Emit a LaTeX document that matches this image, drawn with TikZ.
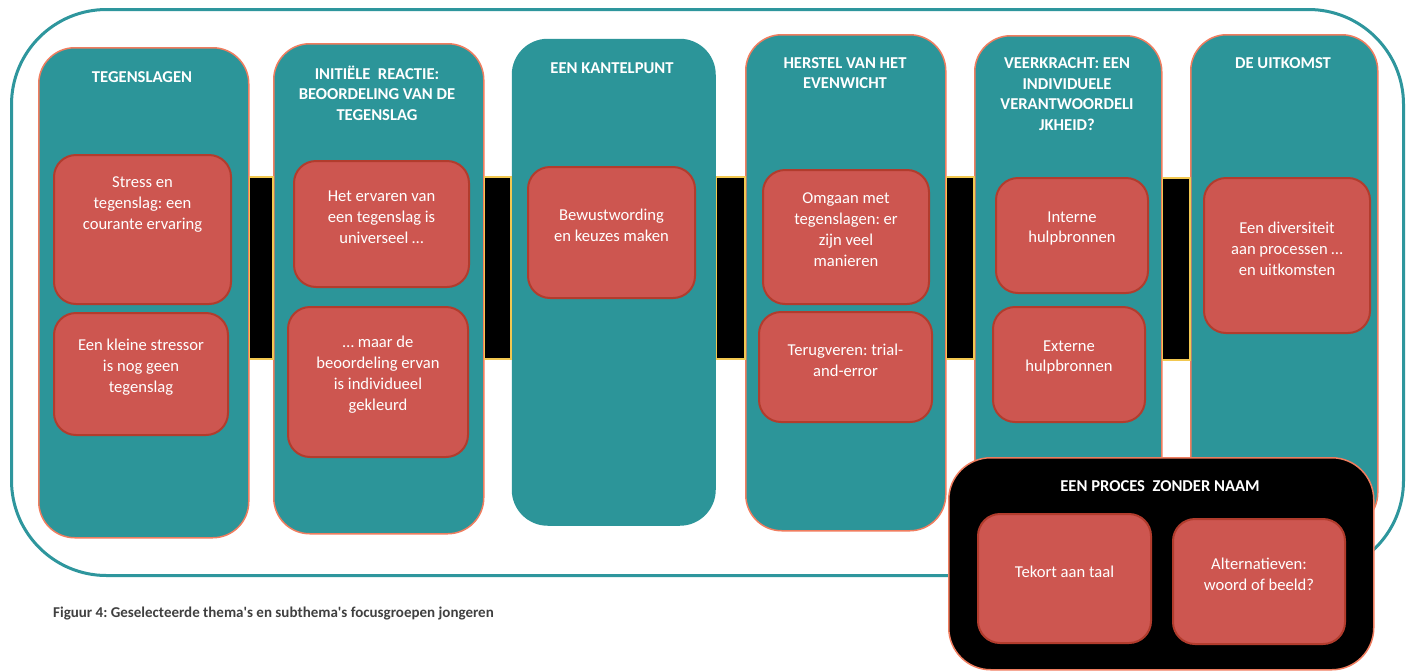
\documentclass[tikz,border=0pt]{standalone}
\usepackage{fontspec}
\setmainfont{Carlito}[Ligatures=TeXOff]
\frenchspacing
\definecolor{tealfill}{RGB}{44,149,153}
\definecolor{tealline}{RGB}{46,150,157}
\definecolor{coral}{RGB}{240,125,95}
\definecolor{redfill}{RGB}{205,86,80}
\definecolor{redline}{RGB}{178,60,45}
\definecolor{gold}{RGB}{242,200,80}
\definecolor{captiongray}{RGB}{64,64,64}
\tikzset{
  frame/.style={draw=tealline, line width=3pt, rounded corners=95pt, inner sep=0pt, anchor=north west},
  column/.style={draw=coral, line width=1.5pt, fill=tealfill, rounded corners=36pt, inner sep=0pt, anchor=north west},
  plaincolumn/.style={column, draw=none},
  bar/.style={draw=gold, line width=1.5pt, fill=black},
  sub/.style={draw=redline, line width=2pt, fill=redfill, rounded corners=22pt, inner sep=0pt, anchor=north west},
  blackbox/.style={draw=coral, line width=1.5pt, fill=black, rounded corners=42pt, inner sep=0pt, anchor=north west},
  title/.style={text=white, align=center, inner sep=0pt, font=\fontsize{16.6}{20.7}\selectfont\bfseries},
  subtext/.style={text=white, align=center, inner sep=0pt, font=\fontsize{16.6}{20.9}\selectfont},
  caption/.style={text=captiongray, anchor=west, inner sep=0pt, font=\fontsize{15}{18}\selectfont\bfseries}
}
\begin{document}
\begin{tikzpicture}[x=1pt,y=-1pt]
\useasboundingbox[fill=white] (0,0) rectangle (1407,670);

% outer frame around the six themes
\node[frame, minimum width=1392pt, minimum height=566pt] (outer) at (10,8) {};

% theme columns
\node[column, minimum width=210pt, minimum height=490pt] (c1) at (38,47) {};
\node[column, minimum width=210pt, minimum height=490pt] (c2) at (273,43) {};
\node[plaincolumn, minimum width=204pt, minimum height=487pt] (c3) at (511,38) {};
\node[column, minimum width=200pt, minimum height=496pt] (c4) at (745,34) {};
\node[column, minimum width=187pt, minimum height=492pt] (c5) at (974,35) {};
\node[column, minimum width=187pt, minimum height=494pt] (c6) at (1190,34) {};

% black links between neighbouring columns
\draw[bar] (c1.east |- 0,177) rectangle (c2.west |- 0,359);
\draw[bar] (c2.east |- 0,177) rectangle (c3.west |- 0,359);
\draw[bar] (c3.east |- 0,177) rectangle (c4.west |- 0,359);
\draw[bar] (c4.east |- 0,177) rectangle (c5.west |- 0,359);
\draw[bar] (c5.east |- 0,178) rectangle (c6.west |- 0,360);

% column titles
\node[title] (t1) at (142,77) {TEGENSLAGEN};
\node[title] (t2) at (377,93) {INITIËLE \ REACTIE:\\BEOORDELING VAN DE\\TEGENSLAG};
\node[title] (t3) at (612,68) {EEN KANTELPUNT};
\node[title] (t4) at (845,73) {HERSTEL VAN HET\\EVENWICHT};
\node[title] (t5) at (1067,94) {VEERKRACHT: EEN\\INDIVIDUELE\\VERANTWOORDELI\\JKHEID?};
\node[title] (t6) at (1283,63) {DE UITKOMST};

% sub-themes
\node[sub, minimum width=177pt, minimum height=149pt] (r1a) at (53,154) {};
\node[subtext] (s1a) at ([yshift=25pt]r1a.center) {Stress en\\tegenslag: een\\courante ervaring};
\node[sub, minimum width=174pt, minimum height=122pt] (r1b) at (53,312) {};
\node[subtext] (s1b) at ([yshift=7pt]r1b.center) {Een kleine stressor\\is nog geen\\tegenslag};

\node[sub, minimum width=175pt, minimum height=126pt] (r2a) at (293,160) {};
\node[subtext] (s2a) at ([yshift=7pt]r2a.center) {Het ervaren van\\een tegenslag is\\universeel …};
\node[sub, minimum width=180pt, minimum height=150pt] (r2b) at (287,306) {};
\node[subtext] (s2b) at ([yshift=7pt]r2b.center) {… maar de\\beoordeling ervan\\is individueel\\gekleurd};

\node[sub, minimum width=167pt, minimum height=131pt] (r3) at (527,166) {};
\node[subtext] (s3) at ([yshift=7pt]r3.center) {Bewustwording\\en keuzes maken};

\node[sub, minimum width=166pt, minimum height=134pt] (r4a) at (762,169) {};
\node[subtext] (s4a) at ([yshift=7pt]r4a.center) {Omgaan met\\tegenslagen: er\\zijn veel\\manieren};
\node[sub, minimum width=173pt, minimum height=110pt] (r4b) at (758,311) {};
\node[subtext] (s4b) at ([yshift=7pt]r4b.center) {Terugveren: trial-\\and-error};

\node[sub, minimum width=152pt, minimum height=115pt] (r5a) at (995,177) {};
\node[subtext] (s5a) at ([yshift=7pt]r5a.center) {Interne\\hulpbronnen};
\node[sub, minimum width=152pt, minimum height=115pt] (r5b) at (992,306) {};
\node[subtext] (s5b) at ([yshift=7pt]r5b.center) {Externe\\hulpbronnen};

\node[sub, minimum width=166pt, minimum height=155pt] (r6) at (1203,177) {};
\node[subtext] (s6) at ([yshift=7pt]r6.center) {Een diversiteit\\aan processen …\\en uitkomsten};

% the unnamed process
\node[blackbox, minimum width=425pt, minimum height=212pt] (proc) at (948,457) {};
\node[title] (tp) at (1160,486) {EEN PROCES \ ZONDER NAAM};
\node[sub, minimum width=173pt, minimum height=129pt] (r7a) at (977,513) {};
\node[subtext] (s7a) at ([yshift=7pt]r7a.center) {Tekort aan taal};
\node[sub, minimum width=172pt, minimum height=125pt] (r7b) at (1172,518) {};
\node[subtext] (s7b) at ([yshift=7pt]r7b.center) {Alternatieven:\\woord of beeld?};

% caption
\node[caption] (cap) at (53,613) {Figuur 4: Geselecteerde thema's en subthema's focusgroepen jongeren};
\end{tikzpicture}
\end{document}
